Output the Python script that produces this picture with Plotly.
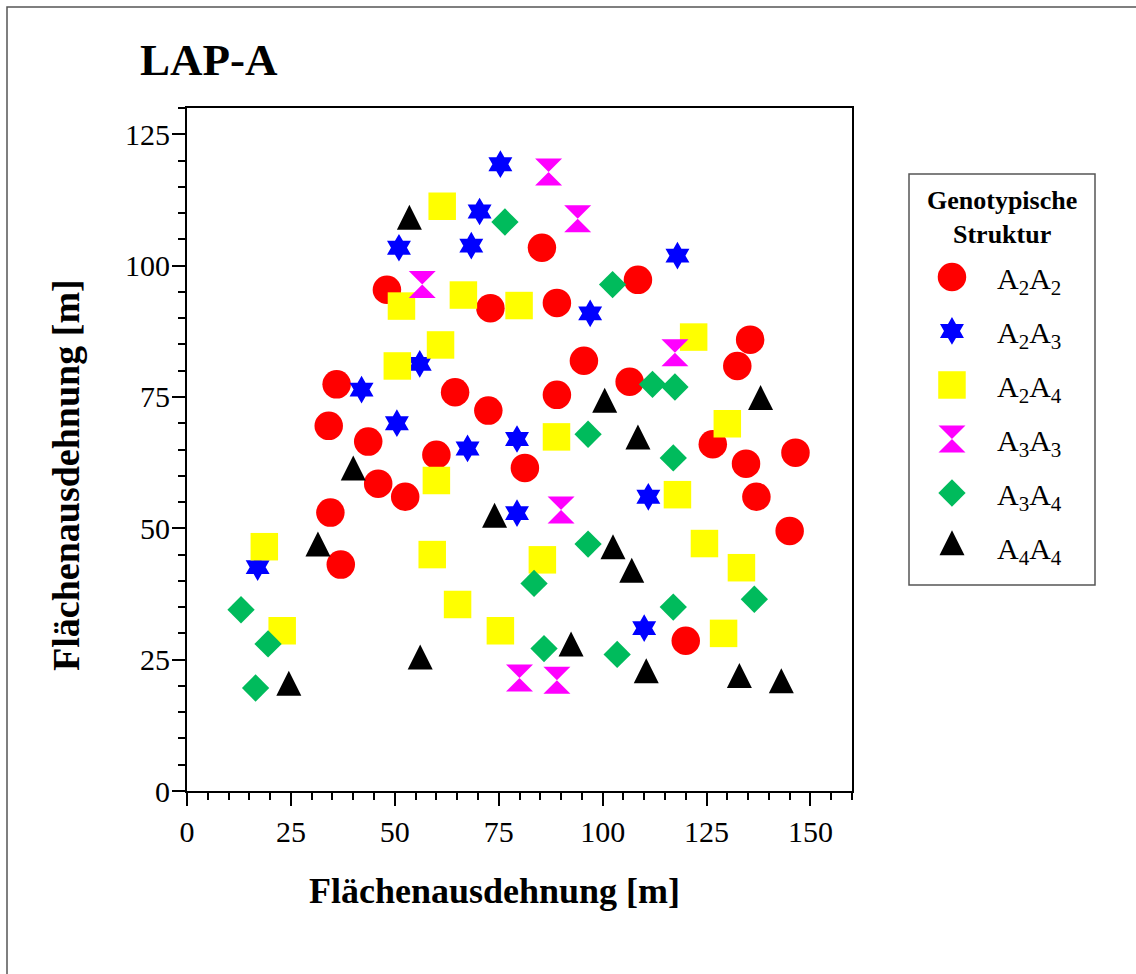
import plotly.graph_objects as go

W, H = 1136, 974

# Genotype groups (legend order = drawing order)
genotypes = ["A2A2", "A2A3", "A2A4", "A3A3", "A3A4", "A4A4"]
genotype_labels = [
    "A<sub>2</sub>A<sub>2</sub>",
    "A<sub>2</sub>A<sub>3</sub>",
    "A<sub>2</sub>A<sub>4</sub>",
    "A<sub>3</sub>A<sub>3</sub>",
    "A<sub>3</sub>A<sub>4</sub>",
    "A<sub>4</sub>A<sub>4</sub>",
]

a2a2_x = [48.1, 85.4, 73.0, 89.0, 108.5, 36.0, 34.1, 43.6, 64.5, 72.5, 89.0, 95.5, 106.5, 46.0,
          52.5, 60.0, 81.3, 34.5, 37.0, 132.4, 135.5, 126.5, 134.5, 137.0, 146.4, 145.0, 120.0]
a2a2_y = [95.4, 103.4, 91.9, 92.9, 97.3, 77.4, 69.5, 66.5, 75.9, 72.4, 75.4, 81.9, 77.9, 58.5,
          56.0, 64.0, 61.5, 53.0, 43.1, 80.9, 85.9, 66.0, 62.3, 56.0, 64.4, 49.5, 28.6]

a2a3_x = [75.4, 70.4, 51.0, 68.4, 118.0, 97.0, 56.0, 42.0, 50.5, 67.5, 79.4, 111.0, 79.4, 17.0, 110.0]
a2a3_y = [119.3, 110.3, 103.4, 103.8, 101.9, 90.9, 81.3, 76.4, 70.0, 65.2, 67.0, 56.0, 52.9, 42.6, 31.0]

a2a4_x = [61.4, 51.6, 66.5, 79.9, 61.0, 50.6, 121.9, 130.0, 88.9, 60.0, 118.0, 18.6, 59.0, 124.5,
          85.5, 133.4, 65.1, 22.9, 75.4, 129.1]
a2a4_y = [111.3, 92.3, 94.4, 92.4, 84.9, 80.9, 86.4, 69.9, 67.4, 59.1, 56.4, 46.5, 45.0, 47.1,
          44.0, 42.5, 35.5, 30.5, 30.5, 30.0]

a3a3_x = [87.0, 94.0, 56.6, 117.4, 90.0, 80.0, 89.0]
a3a3_y = [117.8, 108.9, 96.4, 83.4, 53.5, 21.5, 21.1]

a3a4_x = [76.5, 102.4, 112.0, 117.4, 96.5, 117.0, 96.5, 83.5, 13.0, 117.0, 136.5, 19.5, 85.9, 103.5, 16.5]
a3a4_y = [108.3, 96.4, 77.4, 76.9, 67.9, 63.4, 47.0, 39.5, 34.5, 35.0, 36.5, 28.0, 27.1, 26.0, 19.6]

a4a4_x = [53.5, 100.5, 138.0, 108.5, 40.0, 74.0, 31.5, 102.5, 107.0, 92.4, 56.1, 110.5, 132.9, 143.0, 24.5]
a4a4_y = [108.4, 73.6, 74.1, 66.6, 60.7, 51.7, 46.2, 45.7, 41.2, 27.2, 24.7, 22.1, 21.2, 20.2, 19.7]

xs = [a2a2_x, a2a3_x, a2a4_x, a3a3_x, a3a4_x, a4a4_x]
ys = [a2a2_y, a2a3_y, a2a4_y, a3a3_y, a3a4_y, a4a4_y]

x_ticks = [0, 25, 50, 75, 100, 125, 150]
y_ticks = [0, 25, 50, 75, 100, 125]

# marker styles per genotype
styles = [
    dict(symbol="circle", color="#FF0000", size=28.5),
    dict(symbol="hexagram", color="#0000FF", size=21),
    dict(symbol="square", color="#FFFF00", size=27.5),
    dict(symbol="hourglass", color="#FF00FF", size=27),
    dict(symbol="diamond", color="#00BB5C", size=21),
    # upright equilateral-looking triangle, centred on the point
    dict(symbol="arrow-down", color="#000000", size=25, angle=180, standoff=25 * 2 / 3),
]

SERIF = "Liberation Serif, Times New Roman, serif"


def make_marker(st):
    m = dict(symbol=st["symbol"], color=st["color"], size=st["size"], line=dict(width=0))
    if "angle" in st:
        m["angle"] = st["angle"]
        m["standoff"] = st["standoff"]
    return m


fig = go.Figure()

for g, x, y, st in zip(genotypes, xs, ys, styles):
    fig.add_trace(go.Scatter(x=x, y=y, mode="markers", name=g, marker=make_marker(st),
                             showlegend=False, cliponaxis=False, xaxis="x", yaxis="y"))

# legend symbols, one row per genotype
for i, (g, st) in enumerate(zip(genotypes, styles)):
    fig.add_trace(go.Scatter(x=[0.231], y=[i], mode="markers", name=g, marker=make_marker(st),
                             showlegend=False, cliponaxis=False, xaxis="x2", yaxis="y2",
                             hoverinfo="skip"))

axis_common = dict(
    showline=True, linecolor="black", linewidth=2, mirror=True,
    ticks="outside", ticklen=13, tickwidth=2, tickcolor="black",
    showgrid=False, zeroline=False, automargin=False,
    tickfont=dict(family=SERIF, size=30, color="black"),
    minor=dict(ticks="outside", ticklen=7, tickwidth=2, tickcolor="black", dtick=5, showgrid=False),
)

annotations = [
    dict(text="LAP-A", x=138 / W, y=1 - 60 / H, xref="paper", yref="paper",
         xanchor="left", yanchor="middle", showarrow=False,
         font=dict(family=SERIF, size=45, color="black", weight="bold")),
    dict(text="Flächenausdehnung [m]", x=494 / W, y=1 - 891 / H, xref="paper", yref="paper",
         xanchor="center", yanchor="middle", showarrow=False,
         font=dict(family=SERIF, size=36, color="black", weight="bold")),
    dict(text="Flächenausdehnung [m]", x=66 / W, y=1 - 475 / H, xref="paper", yref="paper",
         xanchor="center", yanchor="middle", showarrow=False, textangle=-90,
         font=dict(family=SERIF, size=38, color="black", weight="bold")),
    dict(text="Genotypische<br>Struktur", x=1002 / W, y=1 - 217 / H, xref="paper", yref="paper",
         xanchor="center", yanchor="middle", showarrow=False,
         font=dict(family=SERIF, size=26, color="black", weight="bold")),
]
for i, lab in enumerate(genotype_labels):
    annotations.append(dict(text=lab, x=0.462, y=i, xref="x2", yref="y2",
                            xanchor="left", yanchor="middle", showarrow=False, yshift=-4,
                            font=dict(family=SERIF, size=30, color="black")))

shapes = [
    # outer frame
    dict(type="rect", xref="paper", yref="paper", x0=7 / W, y0=1 - 7 / H, x1=1.02, y1=-0.02,
         line=dict(color="#555555", width=1.5)),
    # legend box
    dict(type="rect", xref="paper", yref="paper", x0=909 / W, y0=1 - 585 / H, x1=1095 / W,
         y1=1 - 174 / H, line=dict(color="#555555", width=1.5)),
]

fig.update_layout(
    width=W, height=H,
    margin=dict(l=0, r=0, t=0, b=0, pad=0, autoexpand=False),
    paper_bgcolor="white", plot_bgcolor="white",
    xaxis=dict(domain=[187 / W, 852 / W], range=[0, 160], tickvals=x_ticks, **axis_common),
    yaxis=dict(domain=[1 - 791 / H, 1 - 108 / H], range=[0, 130], tickvals=y_ticks,
               ticklabelstandoff=-4, **axis_common),
    xaxis2=dict(domain=[909 / W, 1095 / W], range=[0, 1], visible=False, anchor="y2",
                automargin=False),
    yaxis2=dict(domain=[1 - 585 / H, 1 - 174 / H], range=[5.704, -1.907], visible=False,
                anchor="x2", automargin=False),
    annotations=annotations,
    shapes=shapes,
    showlegend=False,
)

fig.write_html("out.html")
